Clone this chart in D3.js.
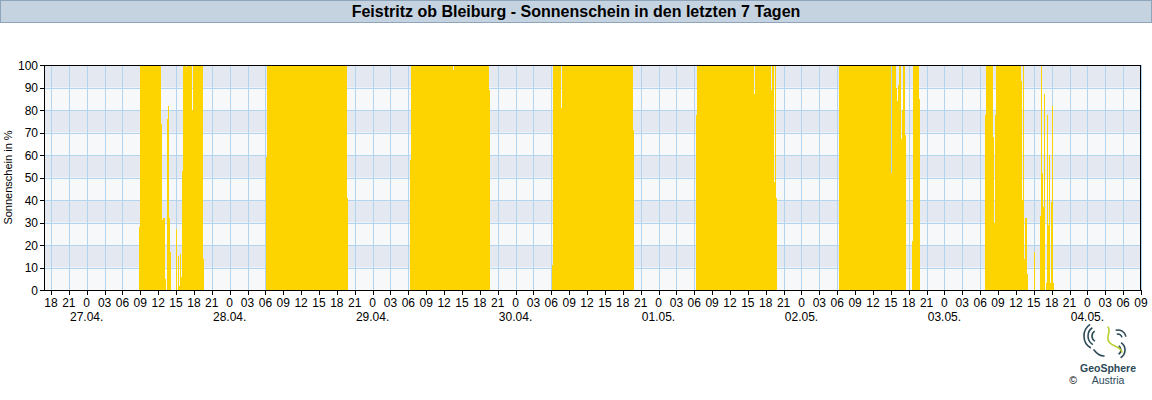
<!DOCTYPE html>
<html><head><meta charset="utf-8">
<script src="https://cdn.jsdelivr.net/npm/d3@7"></script>
<style>body{margin:0;background:#fff;} svg{display:block;font-family:"Liberation Sans",Arial,sans-serif;}</style>
</head><body><svg id="c" width="1152" height="400"></svg>
<script>
const title = "Feistritz ob Bleiburg - Sonnenschein in den letzten 7 Tagen";
const yLabel = "Sonnenschein in %";
const timeStart = "2025-04-26T16:50";
const timeEnd = "2025-05-04T09:00";
const yTicks = [0,10,20,30,40,50,60,70,80,90,100];
const dayDates = ["2025-04-27","2025-04-28","2025-04-29","2025-04-30","2025-05-01","2025-05-02","2025-05-03","2025-05-04"];
const dayLabels = ["27.04.","28.04.","29.04.","30.04.","01.05.","02.05.","03.05.","04.05."];

// runs of 10-minute values: [first slot, last slot, sunshine %]
const sun27 = [["08:50","08:50",28],["09:00","09:10",100],["09:20","09:20",93],["09:30","11:40",100],["11:50","11:50",80],["12:00","12:10",100],["12:20","12:20",74],["12:30","12:30",16],["12:40","12:40",31],["12:50","12:50",32],["13:00","13:00",5],["13:30","13:30",76],["13:40","13:40",82],["13:50","13:50",32],["14:00","14:00",17],["15:00","15:00",27],["15:20","15:20",15],["15:30","15:30",2],["15:40","15:40",16],["15:50","15:50",6],["16:00","16:00",53],["16:10","16:30",100],["16:40","16:40",99],["16:50","17:30",100],["17:40","17:40",80],["17:50","19:20",100],["19:30","19:30",14]];
const sun28 = [["06:10","06:10",59],["06:20","19:30",100],["19:40","19:40",41]];
const sun29 = [["06:20","06:20",58],["06:30","13:20",100],["13:30","13:30",98],["13:40","19:20",100],["19:30","19:30",89]];
const sun30 = [["06:10","06:10",11],["06:20","07:20",100],["07:30","07:30",49],["07:40","07:40",81],["07:50","19:30",100],["19:40","19:40",71]];
const sun01 = [["06:20","06:20",78],["06:30","15:50",100],["16:00","16:00",87],["16:10","18:40",100],["18:50","18:50",89],["19:00","19:10",100],["19:20","19:20",48],["19:30","19:30",100],["19:40","19:40",41]];
const sun02 = [["06:20","14:50",100],["15:00","15:00",52],["15:10","15:40",100],["15:50","15:50",90],["16:00","16:00",84],["16:10","16:10",91],["16:20","16:30",100],["16:40","16:40",67],["16:50","16:50",80],["17:00","17:10",100],["17:20","17:20",69],["18:30","18:30",22],["18:40","19:30",100],["19:40","19:40",85]];
const sun03 = [["06:50","06:50",78],["07:00","08:00",100],["08:10","08:10",68],["08:20","08:20",30],["08:30","08:30",78],["08:40","12:40",100],["12:50","12:50",93],["13:00","13:00",40],["13:10","13:10",100],["13:20","13:20",14],["13:30","13:40",32],["13:50","13:50",7],["15:00","15:00",17],["16:00","16:00",33],["16:10","16:10",100],["16:20","16:20",52],["16:30","16:30",37],["16:40","16:40",87],["17:00","17:00",3],["17:10","17:10",78],["17:20","17:20",29],["17:30","17:30",60],["17:40","17:40",3],["17:50","17:50",39],["18:00","18:00",82],["18:10","18:10",3]];
const sunByDay = [sun27, sun28, sun29, sun30, sun01, sun02, sun03];

const parse = d3.timeParse("%Y-%m-%dT%H:%M");
const points = [];
sunByDay.forEach((runs, i) => {
  runs.forEach(([s, e, v]) => {
    const t0 = parse(dayDates[i] + "T" + s), t1 = parse(dayDates[i] + "T" + e);
    for (let t = t0; t <= t1; t = d3.timeMinute.offset(t, 10)) points.push({t, v});
  });
});

const svg = d3.select("#c");
const L = 44, R = 1141, T = 65, B = 290;
const x = d3.scaleTime().domain([parse(timeStart), parse(timeEnd)]).range([L, R]);
const y = d3.scaleLinear().domain([0, 100]).range([B, T]);

// title bar
svg.append("rect").attr("x", 0.5).attr("y", 0.5).attr("width", 1151).attr("height", 22)
  .attr("fill", "#c5d3e1").attr("stroke", "#8ea4bb");
svg.append("text").attr("x", 576).attr("y", 17).attr("text-anchor", "middle")
  .attr("font-size", 16).attr("font-weight", "bold").attr("fill", "#000").text(title);

// bands
const bands = d3.range(0, 100, 10);
svg.append("g").selectAll("rect").data(bands).join("rect")
  .attr("x", L).attr("width", R - L)
  .attr("y", d => y(d + 10)).attr("height", d => y(d) - y(d + 10))
  .attr("fill", (d, i) => i % 2 === 0 ? "#f6f8fa" : "#e4e9f1");

// grid
const hourTicks = x.ticks(d3.timeHour.every(3));
const grid = svg.append("g").attr("stroke", "#b2d4ef").attr("stroke-width", 1).attr("shape-rendering", "crispEdges");
grid.selectAll("line.v").data(hourTicks).join("line").attr("class", "v")
  .attr("x1", d => Math.round(x(d)) + 0.5).attr("x2", d => Math.round(x(d)) + 0.5).attr("y1", T).attr("y2", B);
grid.selectAll("line.h").data(yTicks.slice(1, -1)).join("line").attr("class", "h")
  .attr("x1", L).attr("x2", R).attr("y1", d => Math.round(y(d)) + 0.5).attr("y2", d => Math.round(y(d)) + 0.5);

// bars
svg.append("g").attr("fill", "#fdd400").attr("shape-rendering", "crispEdges")
  .selectAll("rect").data(points).join("rect")
  .attr("x", d => x(d.t))
  .attr("width", d => x(d3.timeMinute.offset(d.t, 10)) - x(d.t) + 0.4)
  .attr("y", d => y(d.v)).attr("height", d => y(0) - y(d.v));

// frame
svg.append("rect").attr("x", L + 0.5).attr("y", T + 0.5).attr("width", R - L - 1).attr("height", B - T)
  .attr("fill", "none").attr("stroke", "#000").attr("shape-rendering", "crispEdges");

// y axis
const yAxis = svg.append("g").attr("font-size", 12);
yAxis.selectAll("line").data(yTicks).join("line")
  .attr("x1", L - 4).attr("x2", L).attr("y1", d => Math.round(y(d)) + 0.5).attr("y2", d => Math.round(y(d)) + 0.5)
  .attr("stroke", "#000").attr("shape-rendering", "crispEdges");
yAxis.selectAll("text").data(yTicks).join("text")
  .attr("x", L - 6).attr("y", d => y(d) + 4.5).attr("text-anchor", "end").attr("fill", "#000").text(d => d);
svg.append("text").attr("transform", "translate(12," + ((T + B) / 2) + ") rotate(-90)")
  .attr("text-anchor", "middle").attr("font-size", 11).attr("fill", "#000").text(yLabel);

// x axis
const fmtH = d3.timeFormat("%H");
const xAxis = svg.append("g").attr("font-size", 12);
xAxis.selectAll("line").data(hourTicks).join("line")
  .attr("x1", d => Math.round(x(d)) + 0.5).attr("x2", d => Math.round(x(d)) + 0.5).attr("y1", B).attr("y2", B + 5)
  .attr("stroke", "#000").attr("shape-rendering", "crispEdges");
xAxis.selectAll("text").data(hourTicks).join("text")
  .attr("x", d => x(d)).attr("y", B + 17).attr("text-anchor", "middle").attr("fill", "#000")
  .text(d => d.getHours() === 0 ? "0" : fmtH(d));
svg.append("g").attr("font-size", 12).selectAll("text").data(dayDates).join("text")
  .attr("x", d => x(parse(d + "T00:00"))).attr("y", B + 31).attr("text-anchor", "middle").attr("fill", "#000")
  .text((d, i) => dayLabels[i]);

// logo
const logo = svg.append("g").attr("fill", "none").attr("stroke-linecap", "round");
const teal = "#2c4a57";
[[1098, 336, 6], [1098, 336, 10], [1098, 336, 14]].forEach(([cx, cy, r]) => {
  logo.append("path").attr("d", d3.arc()({innerRadius: r, outerRadius: r, startAngle: -2.6, endAngle: -0.6})).attr("transform", `translate(${cx},${cy})`).attr("stroke", teal).attr("stroke-width", 1.6);
});
[[1116, 350, 5], [1116, 350, 9]].forEach(([cx, cy, r]) => {
  logo.append("path").attr("d", d3.arc()({innerRadius: r, outerRadius: r, startAngle: 0.6, endAngle: 2.6})).attr("transform", `translate(${cx},${cy})`).attr("stroke", teal).attr("stroke-width", 1.6);
});
[[1118, 338, 4], [1118, 338, 8]].forEach(([cx, cy, r]) => {
  logo.append("path").attr("d", d3.arc()({innerRadius: r, outerRadius: r, startAngle: -0.3, endAngle: 1.4})).attr("transform", `translate(${cx},${cy})`).attr("stroke", teal).attr("stroke-width", 1.6);
});
logo.append("path").attr("d", "M1108,327 C1112,332 1104,338 1110,343 C1114,347 1120,346 1122,352").attr("stroke", "#b8cf2f").attr("stroke-width", 1.6);
logo.append("path").attr("d", "M1094,350 C1097,354 1100,356 1104,356").attr("stroke", teal).attr("stroke-width", 1.6);
svg.append("text").attr("x", 1108).attr("y", 372).attr("text-anchor", "middle").attr("font-size", 10.5).attr("font-weight", "bold").attr("fill", teal).text("GeoSphere");
svg.append("text").attr("x", 1108).attr("y", 384).attr("text-anchor", "middle").attr("font-size", 10.5).attr("fill", teal).text("Austria");
svg.append("text").attr("x", 1073).attr("y", 384).attr("text-anchor", "middle").attr("font-size", 10.5).attr("fill", "#000").text("©");
</script></body></html>
